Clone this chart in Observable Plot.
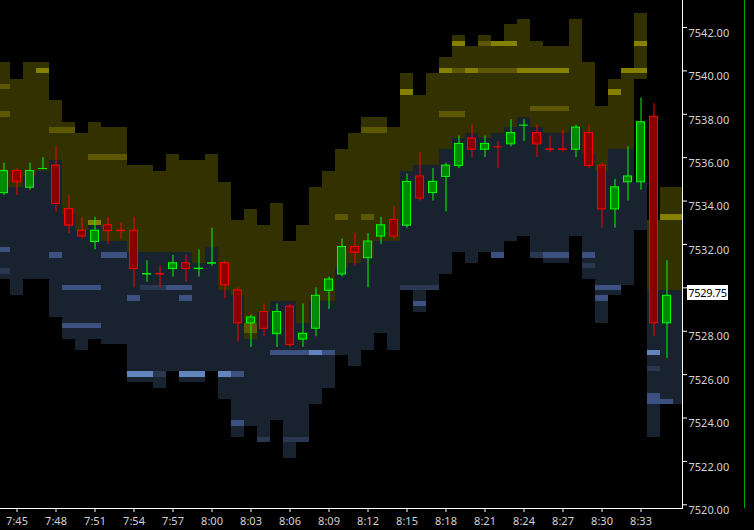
<!DOCTYPE html>
<html>
<head>
<meta charset="utf-8">
<script src="https://cdn.jsdelivr.net/npm/d3@7"></script>
<script src="https://cdn.jsdelivr.net/npm/@observablehq/plot@0.6"></script>
<style>
  html, body { margin: 0; padding: 0; background: #000; overflow: hidden; }
  #chart { position: relative; width: 754px; height: 530px; }
  #chart svg text { fill: #d2d2d2; }
  #last { position: absolute; left: 687px; width: 41px; height: 15px; background: #fff; color: #000;
          font: 11px "Noto Sans", sans-serif; letter-spacing: -0.3px; line-height: 15px; text-align: center; }
  #scroll { position: absolute; left: 744px; top: 0; width: 1px; height: 508px; background: #00a800; }
</style>
</head>
<body>
<div id="chart"><div id="scroll"></div></div>
<script>
/* candles, one per minute */
const times = ["7:44","7:45","7:46","7:47","7:48","7:49","7:50","7:51","7:52","7:53","7:54","7:55","7:56","7:57","7:58","7:59",
  "8:00","8:01","8:02","8:03","8:04","8:05","8:06","8:07","8:08","8:09","8:10","8:11","8:12","8:13","8:14","8:15","8:16","8:17",
  "8:18","8:19","8:20","8:21","8:22","8:23","8:24","8:25","8:26","8:27","8:28","8:29","8:30","8:31","8:32","8:33","8:34","8:35"]
const open  = [7534.25,7535.5,7534.5,7535.5,7535.75,7533.75,7532.75,7532,7533,7532.75,7532.75,7530.5,7530.75,7530.75,7531.25,7530.75,
  7531,7531.25,7530,7528.25,7529,7527.75,7529.25,7527.5,7528,7529.75,7530.5,7532,7531.25,7532.25,7533.25,7532.75,7535.25,7534.25,
  7535,7535.5,7537,7536.25,7536.5,7536.5,7537.5,7537.25,7536.5,7536.5,7536.25,7537.25,7535.75,7533.5,7534.75,7534.75,7538,7528.25]
const high  = [7535.75,7535.5,7535.75,7536,7536.5,7534.25,7533.25,7533.25,7533.25,7533,7533.25,7531.25,7531,7531.5,7531.5,7531.75,
  7532.75,7531.25,7530,7528.75,7529.25,7529.25,7529.25,7529.25,7530,7530.5,7532.25,7532.5,7532.5,7533.25,7533.75,7535.25,7536.25,7535.5,
  7535.75,7537,7537.5,7537,7536.75,7537.75,7537.75,7537.5,7537,7537.25,7537.5,7537.5,7535.75,7535,7536.5,7538.75,7538.5,7531.25]
const low   = [7534.25,7534.25,7534.5,7535.5,7533.5,7532.5,7532.25,7531.75,7532,7532.25,7530,7530.25,7530,7530.5,7530.25,7530.5,
  7531,7529.5,7527.5,7527.25,7527.75,7527.25,7527.25,7527.25,7527.75,7529,7530.5,7531,7530,7532,7532.25,7532.75,7534,7534,
  7533.5,7535.5,7536,7536,7535.5,7536.5,7536.75,7536,7536.25,7536.25,7536,7535.5,7532.75,7532.75,7534,7534.5,7527.75,7526.75]
const close = [7535.5,7534.75,7535.5,7535.5,7533.75,7532.75,7532.25,7532.75,7532.5,7532.5,7530.75,7530.75,7530.5,7531.25,7530.75,7531,
  7531.25,7530,7528.25,7528.75,7528,7529,7527.25,7528,7529.75,7530.5,7532,7531.5,7532.25,7533,7532.25,7535,7534,7535,
  7535.75,7536.75,7536.25,7536.75,7536.5,7537.25,7537.5,7536.5,7536.25,7536.25,7537.5,7535.5,7533.5,7534.75,7535.25,7537.75,7528.25,7529.75]

/* order book heatmap, one column per minute (last one is the live column) */
const bookTimes = times.concat(["8:36"])
const askHigh = [7540.25,7539.5,7540.25,7540.25,7538.5,7537.5,7537,7537.5,7537.25,7537.25,7535.5,7535.5,7535.25,7536,7535.75,7535.75,
  7536,7534.75,7533,7533.5,7532.75,7533.75,7532,7532.75,7534.5,7535.25,7536.25,7537,7537.75,7537.75,7537.25,7539.75,7538.75,7539.75,
  7540.5,7541.5,7541,7541.5,7541.25,7542,7542.25,7541.25,7541,7541,7542.25,7540.25,7538.25,7539.5,7540,7542.5,7533,7534.5,7534.5]
const askLow  = [7534.75,7534.75,7535.25,7535.5,7536,7533.5,7532.75,7533,7532.25,7532.25,7531.75,7531.75,7531.75,7531.75,7531.75,7531.25,
  7532,7530,7529.75,7527.75,7529,7529.5,7529.5,7528.5,7529.5,7529.5,7531,7531.25,7531.5,7532.25,7532.25,7535.5,7535.75,7535.75,
  7536.5,7537,7537.25,7537,7537.25,7537.5,7538,7537.5,7537.25,7537.25,7537.5,7536.25,7535.5,7536.5,7536.5,7539.75,7530,7530,7530]
const bidHigh = [7534.5,7534.5,7535,7535.25,7535.75,7533.25,7532.5,7532.75,7532,7532,7531.5,7531.5,7531.5,7531.5,7531.5,7531,
  7531.75,7529.75,7529.5,7527.5,7528.75,7529.25,7529.25,7528.25,7529.25,7529.25,7530.75,7531,7531.25,7532,7532,7535.25,7535.5,7535.5,
  7536.25,7536.75,7537,7536.75,7537,7537.25,7537.75,7537.25,7537,7537,7537.25,7536,7535.25,7536.25,7536.25,7534.75,7529.75,7529.75,7529.75]
const bidLow  = [7530.5,7529.75,7530.5,7530.5,7528.75,7527.75,7527.25,7527.75,7527.5,7527.5,7525.75,7525.75,7525.5,7526.25,7525.75,7525.75,
  7526.25,7525,7523.25,7523.75,7523,7524,7522.25,7523,7524.75,7525.5,7527,7526.5,7527.25,7528,7527.25,7530,7529,7530,
  7530.75,7531.75,7531.25,7531.75,7531.5,7532.25,7532.5,7531.5,7531.25,7531.25,7532.5,7530.5,7528.5,7529.75,7530.25,7532.75,7523.25,7524.75,7524.75]

/* brighter resting orders: [time, price, level] */
const askSpots = [["7:44",7539.25,1],["7:44",7538,1],["7:47",7540,2],["7:48",7537.25,1],["7:49",7537.25,1],["7:51",7536,1],
  ["7:52",7536,1],["7:53",7536,1],["7:51",7533,2],["8:03",7528,1],["8:03",7528.25,1],["8:10",7533.25,1],["8:12",7533.25,1],
  ["8:12",7537.25,1],["8:13",7537.25,1],["8:15",7539,2],["8:18",7540,2],["8:19",7540,1],["8:20",7540,2],["8:21",7540,1],
  ["8:22",7540,1],["8:23",7540,1],["8:24",7540,2],["8:25",7540,2],["8:26",7540,2],["8:27",7540,2],["8:19",7541.25,2],
  ["8:21",7541.25,1],["8:22",7541.25,2],["8:23",7541.25,2],["8:25",7538.25,1],["8:26",7538.25,1],["8:27",7538.25,1],
  ["8:18",7538,1],["8:19",7538,1],["8:31",7539,2],["8:32",7540,2],["8:33",7540,2],["8:33",7541.25,2],["8:35",7533.25,2],["8:36",7533.25,2]]
const bidSpots = [["7:44",7531.75,2],["7:44",7530.75,1],["7:48",7531.5,2],["7:49",7530,2],["7:50",7530,2],["7:51",7530,2],
  ["7:52",7531.5,2],["7:53",7531.5,2],["7:49",7528.25,2],["7:50",7528.25,2],["7:51",7528.25,2],["7:54",7526,3],["7:55",7526,3],
  ["7:56",7526,1],["7:58",7526,3],["7:59",7526,3],["8:01",7526,3],["8:02",7526,2],["7:54",7529.5,2],["7:58",7529.5,2],
  ["7:55",7530,1],["7:56",7530,1],["7:57",7530,2],["7:58",7530,2],["8:05",7527,2],["8:06",7527,2],["8:07",7527,2],["8:08",7527,3],
  ["8:09",7527,2],["8:02",7523.75,2],["8:04",7523,1],["8:06",7523,1],["8:07",7523,1],["8:15",7530,1],["8:16",7530,1],["8:17",7530,1],
  ["8:16",7529.25,2],["8:19",7531.5,2],["8:22",7531.5,2],["8:25",7531.5,1],["8:26",7531.5,2],["8:27",7531.5,2],["8:29",7531.5,2],
  ["8:29",7531,1],["8:30",7530,2],["8:31",7530,2],["8:30",7529.5,2],["8:34",7527,3],["8:34",7526.25,1],["8:34",7525,2],
  ["8:34",7524.75,2],["8:35",7524.75,2]]

const xTickLabels = ["7:45","7:48","7:51","7:54","7:57","8:00","8:03","8:06","8:09","8:12","8:15","8:18","8:21","8:24","8:27","8:30","8:33"]
const yTicks = [7520,7522,7524,7526,7528,7530,7532,7534,7536,7538,7540,7542]

// minutes after 7:45
const toMin = t => { const [h, m] = t.split(":").map(Number); return h * 60 + m - 465 }

const askColors = ["#343100", "#5c5700", "#858000"]
const bidColors = ["#19222f", "#293750", "#3d5180", "#6385bd"]

const spotLevel = new Map()
askSpots.forEach(([t, p, l]) => spotLevel.set("a" + t + "|" + p, l))
bidSpots.forEach(([t, p, l]) => spotLevel.set("b" + t + "|" + p, l))

const cells = []
bookTimes.forEach((t, i) => {
  for (let p = askLow[i]; p <= askHigh[i] + 1e-9; p += 0.25)
    cells.push({m: toMin(t), p, fill: askColors[spotLevel.get("a" + t + "|" + p) || 0]})
  for (let p = bidLow[i]; p <= bidHigh[i] + 1e-9; p += 0.25)
    cells.push({m: toMin(t), p, fill: bidColors[spotLevel.get("b" + t + "|" + p) || 0]})
})

const candles = times.map((t, i) => {
  const up = close[i] > open[i] || (close[i] === open[i] && close[i] >= (i ? close[i - 1] : close[i]))
  return {m: toMin(t), o: open[i], h: high[i], l: low[i], c: close[i], up}
})
const bodies = candles.filter(d => d.o !== d.c)
const dojis = candles.filter(d => d.o === d.c)
const lastClose = close[close.length - 1]

const chart = Plot.plot({
  width: 754,
  height: 530,
  marginLeft: 0,
  marginRight: 72,
  marginTop: 0,
  marginBottom: 22,
  style: {backgroundColor: "#000", color: "#fff", fontFamily: "'Noto Sans', sans-serif", fontSize: "11px", overflow: "visible"},
  x: {type: "linear", domain: [-16.5 / 13, 665.5 / 13], ticks: xTickLabels.map(toMin),
      tickFormat: m => xTickLabels[xTickLabels.map(toMin).indexOf(m)], tickSize: 4, tickPadding: 5, line: true, label: null},
  // the tick hidden behind the last-price box keeps its mark but loses its label
  y: {domain: [7519.83, 7543.245], axis: "right", ticks: yTicks,
      tickFormat: d => Math.abs(d - lastClose) < 0.6 ? "" : d.toFixed(2),
      tickSize: 4, tickPadding: 2, line: true, label: null},
  color: {type: "identity"},
  marks: [
    Plot.rect(cells, {x1: d => d.m - 0.5, x2: d => d.m + 0.5, y1: d => d.p - 0.125, y2: d => d.p + 0.125,
      fill: "fill", shapeRendering: "crispEdges", clip: true}),
    Plot.ruleX(candles, {x: "m", y1: "l", y2: "h", stroke: d => d.up ? "#00ff00" : "#ff0000", strokeWidth: 1}),
    Plot.rect(bodies, {x1: d => d.m - 0.5, x2: d => d.m + 0.5, inset: 2.5,
      y1: d => Math.min(d.o, d.c), y2: d => Math.max(d.o, d.c),
      fill: d => d.up ? "#008a00" : "#8a0000", stroke: d => d.up ? "#00ff00" : "#ff0000", strokeWidth: 1}),
    Plot.ruleY(dojis, {y: "c", x1: d => d.m - 0.35, x2: d => d.m + 0.35, stroke: d => d.up ? "#00ff00" : "#ff0000", strokeWidth: 1})
  ]
})

d3.select('#chart').append(() => chart)

// price labels sit a little below their tick in the reference
d3.select(chart).selectAll('g[aria-label="y-axis"] text, g[aria-label="y-axis tick label"] text').attr('dy', '0.52em')

const last = d3.select('#chart').append('div').attr('id', 'last').text(lastClose.toFixed(2))
last.style('top', (chart.scale('y').apply(lastClose) - 7.5) + 'px')
</script>
</body>
</html>
